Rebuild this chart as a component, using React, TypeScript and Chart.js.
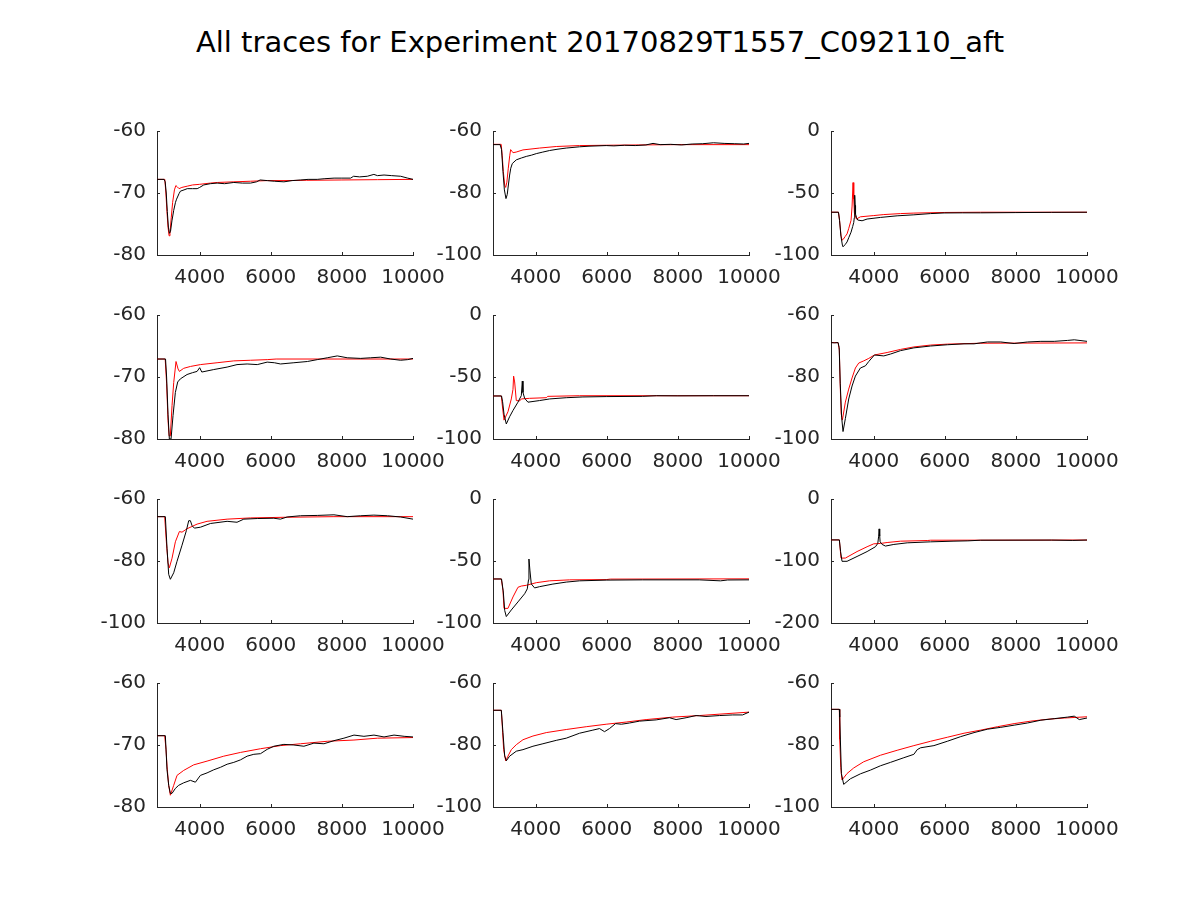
import React, { useEffect, useRef } from "react";
import { Chart, registerables } from "chart.js";

Chart.register(...registerables);

const TITLE = "All traces for Experiment 20170829T1557_C092110_aft";
const X_MIN = 2800;
const X_MAX = 10000;
const xTicks = [4000, 6000, 8000, 10000];

const yMins = [-80, -100, -100, -80, -100, -100, -100, -100, -200, -80, -100, -100];
const yMaxs = [-60, -60, 0, -60, 0, -60, -60, 0, 0, -60, -60, -60];
const yTickSets = [
  [-80, -70, -60], [-100, -80, -60], [-100, -50, 0],
  [-80, -70, -60], [-100, -50, 0], [-100, -80, -60],
  [-100, -80, -60], [-100, -50, 0], [-200, -100, 0],
  [-80, -70, -60], [-100, -80, -60], [-100, -80, -60],
];

const p1Black = [[2800,-67.8],[3000,-67.8],[3030,-68.2],[3060,-70],[3090,-73],[3120,-75.5],[3150,-76.5],[3180,-76.2],[3220,-74.5],[3270,-72.8],[3320,-71.5],[3350,-71],[3420,-70.1],[3460,-69.7],[3560,-69.5],[3650,-69.3],[3800,-69.3],[3930,-69.3],[4000,-69.1],[4115,-68.7],[4300,-68.5],[4490,-68.4],[4700,-68.5],[4960,-68.3],[5200,-68.4],[5430,-68.4],[5600,-68.2],[5700,-67.9],[5900,-68.0],[6100,-68.1],[6370,-68.2],[6600,-68.0],[6840,-67.9],[7050,-67.8],[7307,-67.8],[7500,-67.7],[7780,-67.6],[8000,-67.6],[8246,-67.6],[8330,-67.3],[8500,-67.4],[8715,-67.3],[8900,-67.0],[9000,-67.2],[9185,-67.1],[9400,-67.2],[9654,-67.3],[9850,-67.6],[10000,-67.8]];
const p1Red = [[2800,-67.8],[3020,-67.8],[3050,-70],[3080,-73],[3110,-75.5],[3140,-76.9],[3165,-76.5],[3200,-74],[3240,-71.5],[3290,-69.5],[3330,-68.8],[3370,-69.0],[3420,-69.3],[3500,-69.1],[3650,-68.9],[3800,-68.7],[4000,-68.6],[4300,-68.4],[4500,-68.3],[4960,-68.2],[5430,-68.1],[5900,-68.0],[6400,-68.0],[7000,-67.95],[8000,-67.9],[9000,-67.85],[10000,-67.8]];

const p2Black = [[2800,-64.4],[3000,-64.4],[3040,-66],[3080,-73],[3120,-79],[3165,-81.8],[3200,-80.5],[3222,-78.4],[3268,-74.2],[3300,-72],[3343,-70.5],[3455,-69.3],[3600,-68.7],[3736,-68.2],[3880,-67.8],[4017,-67.3],[4200,-66.8],[4392,-66.3],[4600,-65.9],[4860,-65.5],[5050,-65.3],[5234,-65.1],[5500,-64.9],[5983,-64.7],[6200,-64.8],[6500,-64.6],[6800,-64.7],[7100,-64.5],[7300,-64.0],[7500,-64.4],[7800,-64.3],[8100,-64.5],[8400,-64.2],[8700,-64.1],[9000,-63.8],[9300,-64.0],[9600,-64.1],[9850,-64.2],[10000,-64.0]];
const p2Red = [[2800,-64.3],[3030,-64.3],[3060,-68],[3090,-73],[3130,-77.5],[3156,-78.2],[3190,-76.5],[3230,-72],[3270,-68],[3296,-66],[3330,-66.5],[3362,-67],[3450,-66.8],[3643,-66.1],[4111,-65.5],[4579,-65.0],[5234,-64.7],[5983,-64.6],[6900,-64.5],[8000,-64.4],[10000,-64.4]];

const p3Black = [[2800,-65.5],[3010,-65.5],[3040,-72],[3080,-85],[3120,-92],[3138,-93.4],[3200,-91.5],[3251,-89.5],[3300,-86],[3364,-81.6],[3410,-77],[3440,-73.7],[3455,-70],[3467,-51.8],[3480,-60],[3490,-67],[3520,-70],[3552,-71.8],[3674,-72.4],[3815,-71],[4190,-69.7],[4660,-68.4],[5131,-67.6],[5600,-66.6],[5980,-66.1],[6500,-66],[7000,-66],[8000,-65.8],[9000,-65.6],[10000,-65.5]];
const p3Red = [[2800,-65.5],[3010,-65.5],[3040,-72],[3080,-84],[3110,-88],[3140,-87.5],[3200,-85],[3251,-83],[3300,-78.5],[3364,-72],[3393,-60.5],[3420,-41.6],[3440,-55],[3458,-66],[3514,-71],[3627,-69.2],[4003,-68.2],[4285,-67.4],[4755,-66.6],[5131,-66.2],[6000,-65.7],[7000,-65.5],[10000,-65.5]];

const p4Black = [[2800,-67.1],[3040,-67.1],[3070,-70],[3110,-76],[3147,-80],[3195,-80],[3251,-76.2],[3316,-72.5],[3382,-70.8],[3457,-70.3],[3645,-69.6],[3800,-69.3],[3927,-69.1],[4000,-68.5],[4060,-69.2],[4396,-68.8],[4772,-68.4],[5050,-68.0],[5335,-67.9],[5620,-68.0],[5899,-67.6],[6100,-67.7],[6274,-67.9],[6650,-67.7],[7030,-67.5],[7307,-67.2],[7590,-66.9],[7870,-66.6],[8150,-66.9],[8530,-67.0],[8810,-66.9],[9090,-66.8],[9370,-67.1],[9650,-67.3],[9850,-67.2],[10000,-67.0]];
const p4Red = [[2800,-67.1],[3030,-67.1],[3070,-71],[3110,-77],[3140,-79.5],[3175,-79.5],[3223,-74.6],[3270,-70.9],[3335,-67.5],[3392,-68.7],[3430,-69.1],[3551,-68.6],[3740,-68.3],[4020,-68.0],[4490,-67.7],[4960,-67.4],[5430,-67.3],[5900,-67.2],[6150,-67.1],[10000,-67.1]];

const p5Black = [[2800,-65.3],[3040,-65.3],[3070,-70],[3110,-80],[3174,-87.9],[3268,-82],[3362,-77],[3502,-70.3],[3596,-65],[3624,-53.3],[3643,-62.5],[3690,-67.2],[3783,-70.3],[4111,-69],[4392,-67.7],[4860,-66.7],[5328,-66.1],[5983,-65.8],[7000,-65.6],[7400,-65.1],[8000,-65.2],[9000,-65.1],[10000,-65.1]];
const p5Red = [[2800,-65.3],[3034,-65.3],[3070,-75],[3110,-84.8],[3137,-84.8],[3221,-78],[3315,-67.7],[3362,-60],[3380,-49.3],[3409,-54],[3455,-69],[3549,-69.3],[3596,-67.7],[3830,-67.2],[4298,-66.7],[4340,-65.6],[5234,-65.1],[10000,-65.1]];

const p6Black = [[2800,-68.9],[2900,-69.0],[3000,-68.9],[3030,-70.5],[3060,-82],[3100,-93],[3138,-97.6],[3204,-93.4],[3298,-87.1],[3392,-82.9],[3486,-79.7],[3627,-77.1],[3768,-76.4],[3862,-75],[4022,-72.9],[4285,-73.2],[4473,-72.6],[4755,-71.5],[5131,-70.6],[5601,-70],[6071,-69.6],[6541,-69.3],[6823,-69.3],[7199,-68.7],[7575,-68.7],[7950,-69.2],[8327,-68.7],[8703,-68.5],[9078,-68.5],[9454,-68.2],[9642,-68.0],[10000,-68.5]];
const p6Red = [[2800,-68.9],[2997,-68.9],[3035,-71.3],[3055,-81.3],[3085,-91.8],[3120,-93.9],[3204,-88.1],[3298,-83.9],[3392,-80.3],[3486,-77.1],[3580,-75.5],[3721,-74.8],[3862,-74],[4022,-72.9],[4379,-72.1],[4755,-71.1],[5131,-70.3],[5601,-69.7],[6071,-69.4],[7011,-69.1],[10000,-69.0]];

const p7Black = [[2800,-65.7],[3035,-65.7],[3082,-75.9],[3129,-84.3],[3176,-85.9],[3270,-83.8],[3363,-80.1],[3504,-74.9],[3626,-70.2],[3692,-67],[3739,-67],[3786,-68.6],[3852,-69.4],[4021,-69.1],[4302,-67.9],[4772,-67.2],[5050,-67.5],[5241,-66.5],[5620,-66.3],[6086,-66.2],[6270,-66.5],[6460,-65.8],[6838,-65.4],[7307,-65.3],[7777,-65.1],[8150,-65.7],[8530,-65.4],[8900,-65.2],[9280,-65.4],[9650,-65.8],[10000,-66.5]];
const p7Red = [[2800,-65.7],[3016,-65.7],[3063,-73.8],[3110,-80.6],[3147,-82.2],[3223,-79.1],[3317,-73.8],[3430,-70.5],[3504,-70.7],[3645,-69.6],[3927,-68.1],[4208,-67.2],[4772,-66.5],[5429,-66.1],[6370,-65.9],[7777,-65.7],[10000,-65.7]];

const p8Black = [[2800,-64.5],[3040,-64.5],[3090,-75],[3130,-90],[3174,-94.8],[3315,-89.5],[3502,-83],[3690,-76.4],[3764,-72.5],[3800,-65],[3811,-48.4],[3840,-58],[3877,-68.5],[3970,-71.7],[4111,-70.7],[4485,-68.6],[4860,-67],[5234,-66],[5983,-65.4],[7000,-65.2],[8600,-65.2],[9200,-66],[9400,-65.3],[10000,-65.2]];
const p8Red = [[2800,-64.5],[3034,-64.5],[3081,-73.8],[3109,-88.2],[3221,-88.2],[3362,-79],[3502,-71.2],[3596,-70.2],[3736,-69.6],[4017,-67.5],[4392,-66],[4954,-65.2],[5983,-65],[6100,-64.6],[10000,-64.4]];

const p9Black = [[2800,-66],[3035,-66],[3070,-85],[3110,-100.5],[3251,-100.5],[3533,-92.7],[3815,-84.8],[4050,-77],[4116,-71.7],[4140,-60],[4153,-48.2],[4170,-60],[4182,-69.1],[4238,-73.3],[4332,-75.9],[4567,-73.3],[4943,-70.7],[5601,-69.1],[6259,-68],[6650,-67.5],[7000,-66.5],[9000,-66.3],[9600,-66.8],[10000,-66.2]];
const p9Red = [[2800,-66],[3035,-66],[3082,-95.3],[3204,-95.3],[3533,-84.8],[3815,-77],[4003,-72.3],[4191,-71.7],[4379,-70.2],[4755,-68],[5507,-67],[5600,-66.5],[10000,-66.2]];

const p10Black = [[2800,-68.5],[3035,-68.5],[3082,-74],[3129,-76.5],[3176,-77.8],[3223,-77.8],[3317,-77],[3410,-76.5],[3551,-76.1],[3739,-75.7],[3880,-76],[4021,-74.9],[4208,-74.5],[4396,-74],[4584,-73.6],[4772,-73.1],[4960,-72.8],[5147,-72.4],[5335,-71.8],[5523,-71.5],[5711,-71.4],[5899,-70.7],[6086,-70.2],[6368,-69.9],[6650,-70.0],[6932,-70.2],[7213,-69.7],[7495,-69.8],[7777,-69.3],[8058,-68.9],[8340,-68.4],[8620,-68.6],[8903,-68.4],[9185,-68.7],[9466,-68.4],[9750,-68.6],[10000,-68.7]];
const p10Red = [[2800,-68.5],[3016,-68.5],[3054,-70.7],[3082,-73.4],[3129,-76.5],[3176,-78.1],[3270,-76.5],[3363,-74.9],[3551,-74.1],[3833,-73.2],[4208,-72.6],[4678,-71.8],[5147,-71.2],[5711,-70.6],[6274,-70.1],[6838,-69.8],[7589,-69.4],[8340,-69.2],[8997,-68.9],[10000,-68.8]];

const p11Black = [[2800,-68.8],[3034,-68.8],[3080,-76],[3128,-83.5],[3175,-85.1],[3268,-83.6],[3455,-82],[3643,-81.5],[3924,-80.4],[4204,-79.6],[4579,-78.5],[4860,-77.8],[5234,-76.2],[5609,-75.2],[5796,-74.7],[5936,-75.7],[6077,-74.7],[6246,-73.1],[6411,-73.3],[6640,-72.9],[6920,-72.3],[7390,-71.9],[7762,-71.2],[7950,-71.8],[8231,-71.2],[8512,-70.5],[8790,-70.8],[9166,-70.5],[9541,-70.3],[9820,-70.3],[10000,-69.4]];
const p11Red = [[2800,-68.8],[3034,-68.8],[3062,-74.1],[3100,-81.5],[3156,-85.1],[3221,-83.6],[3315,-81.5],[3455,-79.9],[3643,-78.3],[3924,-77.1],[4298,-76],[4860,-75],[5422,-74.1],[5983,-73.3],[6545,-72.6],[7107,-71.8],[7856,-71],[8605,-70.5],[9354,-69.9],[10000,-69.4]];

const p12Black = [[2800,-68.5],[3035,-68.5],[3045,-71],[3092,-89.2],[3157,-92.7],[3345,-90.9],[3627,-89.3],[3909,-88.1],[4191,-86.7],[4473,-85.6],[4849,-84.1],[5131,-83],[5225,-81.5],[5320,-80.9],[5695,-80.2],[6071,-78.8],[6447,-77.3],[6823,-76],[7199,-74.9],[7575,-74.3],[7951,-73.6],[8327,-72.9],[8703,-72],[9078,-71.5],[9454,-71],[9642,-70.7],[9783,-71.8],[10000,-71.3]];
const p12Red = [[2800,-68.5],[3035,-68.5],[3045,-78.2],[3075,-87.3],[3110,-91.3],[3251,-89.2],[3439,-87.4],[3721,-85.4],[4191,-83.3],[4661,-81.7],[5131,-80.2],[5601,-78.8],[6071,-77.5],[6541,-76.2],[7011,-75.2],[7481,-74.1],[7951,-73.1],[8421,-72.3],[8891,-71.7],[9361,-71.3],[10000,-70.9]];

const blackSeries = [p1Black, p2Black, p3Black, p4Black, p5Black, p6Black, p7Black, p8Black, p9Black, p10Black, p11Black, p12Black];
const redSeries = [p1Red, p2Red, p3Red, p4Red, p5Red, p6Red, p7Red, p8Red, p9Red, p10Red, p11Red, p12Red];

// layout (figure pixels)
const COL_LEFTS = [157, 493, 831];
const ROW_TOPS = [128, 312, 496, 680];
const PLOT_W = 256;
const PLOT_H = 127;
const PAD_L = 80;
const PAD_T = 20;
const PAD_R = 45;
const PAD_B = 45;
const AXIS_COLOR = "#262626";
const FONT = "'DejaVu Sans', sans-serif";

const inwardTicks = {
  id: "inwardTicks",
  afterDraw(chart: any) {
    const { ctx, chartArea, scales } = chart;
    const len = 3;
    ctx.save();
    ctx.strokeStyle = AXIS_COLOR;
    ctx.lineWidth = 1;
    ctx.beginPath();
    for (const t of scales.x.ticks) {
      const px = Math.round(scales.x.getPixelForValue(t.value)) + 0.5;
      ctx.moveTo(px, chartArea.bottom);
      ctx.lineTo(px, chartArea.bottom - len);
    }
    for (const t of scales.y.ticks) {
      const py = Math.round(scales.y.getPixelForValue(t.value)) + 0.5;
      ctx.moveTo(chartArea.left, py);
      ctx.lineTo(chartArea.left + len, py);
    }
    ctx.stroke();
    ctx.restore();
  },
};

function Panel({ idx }: { idx: number }) {
  const ref = useRef<HTMLCanvasElement>(null);
  useEffect(() => {
    if (!ref.current) return;
    const yt = yTickSets[idx];
    const chart = new Chart(ref.current, {
      type: "line",
      data: {
        datasets: [
          {
            data: blackSeries[idx].map(([x, y]) => ({ x, y })),
            borderColor: "#000000",
            borderWidth: 1,
            pointRadius: 0,
            tension: 0,
            fill: false,
          },
          {
            data: redSeries[idx].map(([x, y]) => ({ x, y })),
            borderColor: "#ff0000",
            borderWidth: 1,
            pointRadius: 0,
            tension: 0,
            fill: false,
          },
        ],
      },
      options: {
        animation: false,
        responsive: false,
        maintainAspectRatio: false,
        devicePixelRatio: 1,
        layout: { padding: { left: 0, top: PAD_T, right: PAD_R, bottom: 0 }, autoPadding: false },
        plugins: { legend: { display: false }, tooltip: { enabled: false }, title: { display: false } },
        scales: {
          x: {
            type: "linear",
            min: X_MIN,
            max: X_MAX,
            afterBuildTicks: (s: any) => { s.ticks = xTicks.map((v) => ({ value: v })); },
            afterFit: (s: any) => { s.height = PAD_B; },
            grid: { display: false, drawTicks: false },
            border: { display: true, color: AXIS_COLOR, width: 1 },
            ticks: {
              color: AXIS_COLOR,
              font: { family: FONT, size: 20 },
              padding: 11,
              maxRotation: 0,
              autoSkip: false,
              callback: (v: any) => String(v),
            },
          },
          y: {
            type: "linear",
            min: yMins[idx],
            max: yMaxs[idx],
            afterBuildTicks: (s: any) => { s.ticks = yt.map((v) => ({ value: v })); },
            afterFit: (s: any) => { s.width = PAD_L; },
            grid: { display: false, drawTicks: false },
            border: { display: true, color: AXIS_COLOR, width: 1 },
            ticks: {
              color: AXIS_COLOR,
              font: { family: FONT, size: 20 },
              padding: 11,
              autoSkip: false,
              callback: (v: any) => String(v),
            },
          },
        },
      },
      plugins: [inwardTicks],
    } as any);
    return () => chart.destroy();
  }, [idx]);
  const col = idx % 3;
  const row = Math.floor(idx / 3);
  const w = PAD_L + PLOT_W + PAD_R;
  const h = PAD_T + PLOT_H + PAD_B;
  return (
    <canvas
      ref={ref}
      width={w}
      height={h}
      style={{ position: "absolute", left: COL_LEFTS[col] - PAD_L, top: ROW_TOPS[row] - PAD_T, width: w, height: h }}
    />
  );
}

export default function App() {
  return (
    <div style={{ position: "absolute", left: 0, top: 0, width: 1200, height: 900, background: "#ffffff", overflow: "hidden" }}>
      <div
        style={{
          position: "absolute",
          left: 0,
          top: 28,
          width: 1200,
          textAlign: "center",
          fontFamily: FONT,
          fontSize: 29,
          lineHeight: "29px",
          color: "#000000",
          whiteSpace: "nowrap",
        }}
      >
        {TITLE}
      </div>
      {Array.from({ length: 12 }, (_, i) => (
        <Panel key={i} idx={i} />
      ))}
    </div>
  );
}
